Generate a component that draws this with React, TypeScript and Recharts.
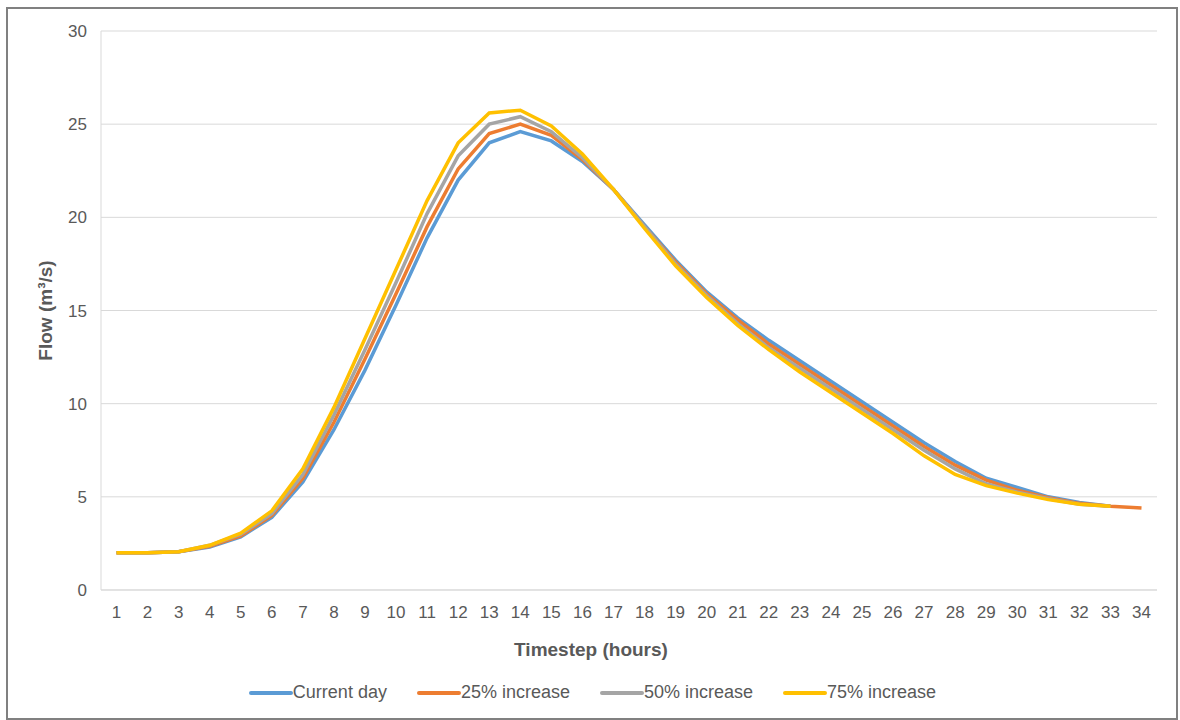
import { LineChart, Line, XAxis, YAxis, CartesianGrid, Legend } from 'recharts';

// hourly timesteps
const timesteps = Array.from({ length: 34 }, (_, i) => String(i + 1));

const currentDay = [2.0, 2.0, 2.05, 2.3, 2.85, 3.9, 5.8, 8.6, 11.8, 15.3, 18.9, 22.0, 24.0, 24.6, 24.1, 23.0, 21.5, 19.6, 17.7, 16.0, 14.6, 13.4, 12.3, 11.2, 10.1, 9.0, 7.9, 6.9, 6.0, 5.5, 5.0, 4.7, 4.5];
const increase25 = [2.0, 2.0, 2.05, 2.35, 2.9, 4.0, 6.0, 9.0, 12.4, 15.9, 19.5, 22.6, 24.5, 25.0, 24.4, 23.1, 21.5, 19.5, 17.6, 15.9, 14.5, 13.2, 12.1, 11.0, 9.9, 8.8, 7.7, 6.7, 5.9, 5.35, 4.95, 4.65, 4.5, 4.4];
const increase50 = [2.0, 2.0, 2.05, 2.4, 3.0, 4.1, 6.2, 9.4, 12.9, 16.5, 20.2, 23.3, 25.0, 25.4, 24.6, 23.2, 21.5, 19.5, 17.5, 15.8, 14.3, 13.0, 11.9, 10.8, 9.7, 8.6, 7.5, 6.5, 5.7, 5.25, 4.9, 4.6, 4.5];
const increase75 = [2.0, 2.0, 2.05, 2.4, 3.05, 4.25, 6.5, 9.8, 13.5, 17.2, 20.9, 24.0, 25.6, 25.75, 24.9, 23.4, 21.5, 19.4, 17.4, 15.7, 14.2, 12.9, 11.7, 10.6, 9.5, 8.4, 7.2, 6.2, 5.6, 5.2, 4.85, 4.6, 4.5];

const seriesNames = ['Current day', '25% increase', '50% increase', '75% increase'];
const yTicks = [0, 5, 10, 15, 20, 25, 30];

const data = timesteps.map((t, i) => ({
    name: t,
    current: currentDay[i] ?? null,
    inc25: increase25[i] ?? null,
    inc50: increase50[i] ?? null,
    inc75: increase75[i] ?? null,
}));

const FONT = '"Liberation Sans", Arial, sans-serif';
const TEXT = '#595959';

// legend in series order, line icon butting onto the text like Excel
// eslint-disable-next-line @typescript-eslint/no-explicit-any
const LegendContent = ({ payload }: any) => {
    const items = [...(payload || [])].sort((a: any, b: any) => seriesNames.indexOf(a.value) - seriesNames.indexOf(b.value));
    return (
        <div style={{ display: 'flex', justifyContent: 'center', gap: 30, fontFamily: FONT, fontSize: 18, color: TEXT, paddingLeft: 20 }}>
            {items.map((p: any) => (
                <div key={p.value} style={{ display: 'flex', alignItems: 'center' }}>
                    <span style={{ display: 'inline-block', width: 44, height: 4, background: p.color, borderRadius: 2 }} />
                    <span>{p.value}</span>
                </div>
            ))}
        </div>
    );
};

// axis titles, centred on their own anchor point
// eslint-disable-next-line @typescript-eslint/no-explicit-any
const YTitle = ({ viewBox }: any) => {
    const cx = viewBox.x + 37;
    const cy = viewBox.y + viewBox.height / 2;
    return (
        <text x={cx} y={cy} transform={`rotate(-90 ${cx} ${cy})`} textAnchor="middle" dominantBaseline="central"
            fill={TEXT} fontSize={19} fontWeight="bold" fontFamily={FONT}>
            Flow (m³/s)
        </text>
    );
};

// eslint-disable-next-line @typescript-eslint/no-explicit-any
const XTitle = ({ viewBox }: any) => {
    const cx = viewBox.x + viewBox.width / 2 - 38;
    const cy = viewBox.y + 59;
    return (
        <text x={cx} y={cy} textAnchor="middle" dominantBaseline="central"
            fill={TEXT} fontSize={19} fontWeight="bold" fontFamily={FONT}>
            Timestep (hours)
        </text>
    );
};

export default function App() {
    return (
        <div style={{ position: 'absolute', left: 6, top: 7, width: 1172, height: 713, boxSizing: 'border-box', border: '2px solid #808080', background: '#fff' }}>
            <LineChart width={1168} height={709} data={data} margin={{ top: 22, right: 19, left: 0, bottom: 0 }}>
                <CartesianGrid stroke="#d9d9d9" vertical={false} />
                <XAxis
                    dataKey="name"
                    stroke="#d9d9d9"
                    tickLine={false}
                    tickMargin={10}
                    height={71}
                    padding={{ left: 15.5, right: 15.5 }}
                    tick={{ fill: TEXT, fontSize: 17, fontFamily: FONT }}
                    interval={0}
                    label={{ content: <XTitle /> }}
                />
                <YAxis
                    width={93}
                    domain={[0, 30]}
                    ticks={yTicks}
                    stroke="#d9d9d9"
                    tickLine={false}
                    tickMargin={8}
                    tick={{ fill: TEXT, fontSize: 17, fontFamily: FONT }}
                    label={{ content: <YTitle /> }}
                />
                <Legend verticalAlign="bottom" height={36} content={<LegendContent />} wrapperStyle={{ paddingTop: 21 }} />
                <Line type="linear" dataKey="current" name="Current day" stroke="#5B9BD5" strokeWidth={3.5} dot={false} isAnimationActive={false} />
                <Line type="linear" dataKey="inc25" name="25% increase" stroke="#ED7D31" strokeWidth={3.5} dot={false} isAnimationActive={false} />
                <Line type="linear" dataKey="inc50" name="50% increase" stroke="#A5A5A5" strokeWidth={3.5} dot={false} isAnimationActive={false} />
                <Line type="linear" dataKey="inc75" name="75% increase" stroke="#FFC000" strokeWidth={3.5} dot={false} isAnimationActive={false} />
            </LineChart>
        </div>
    );
}
